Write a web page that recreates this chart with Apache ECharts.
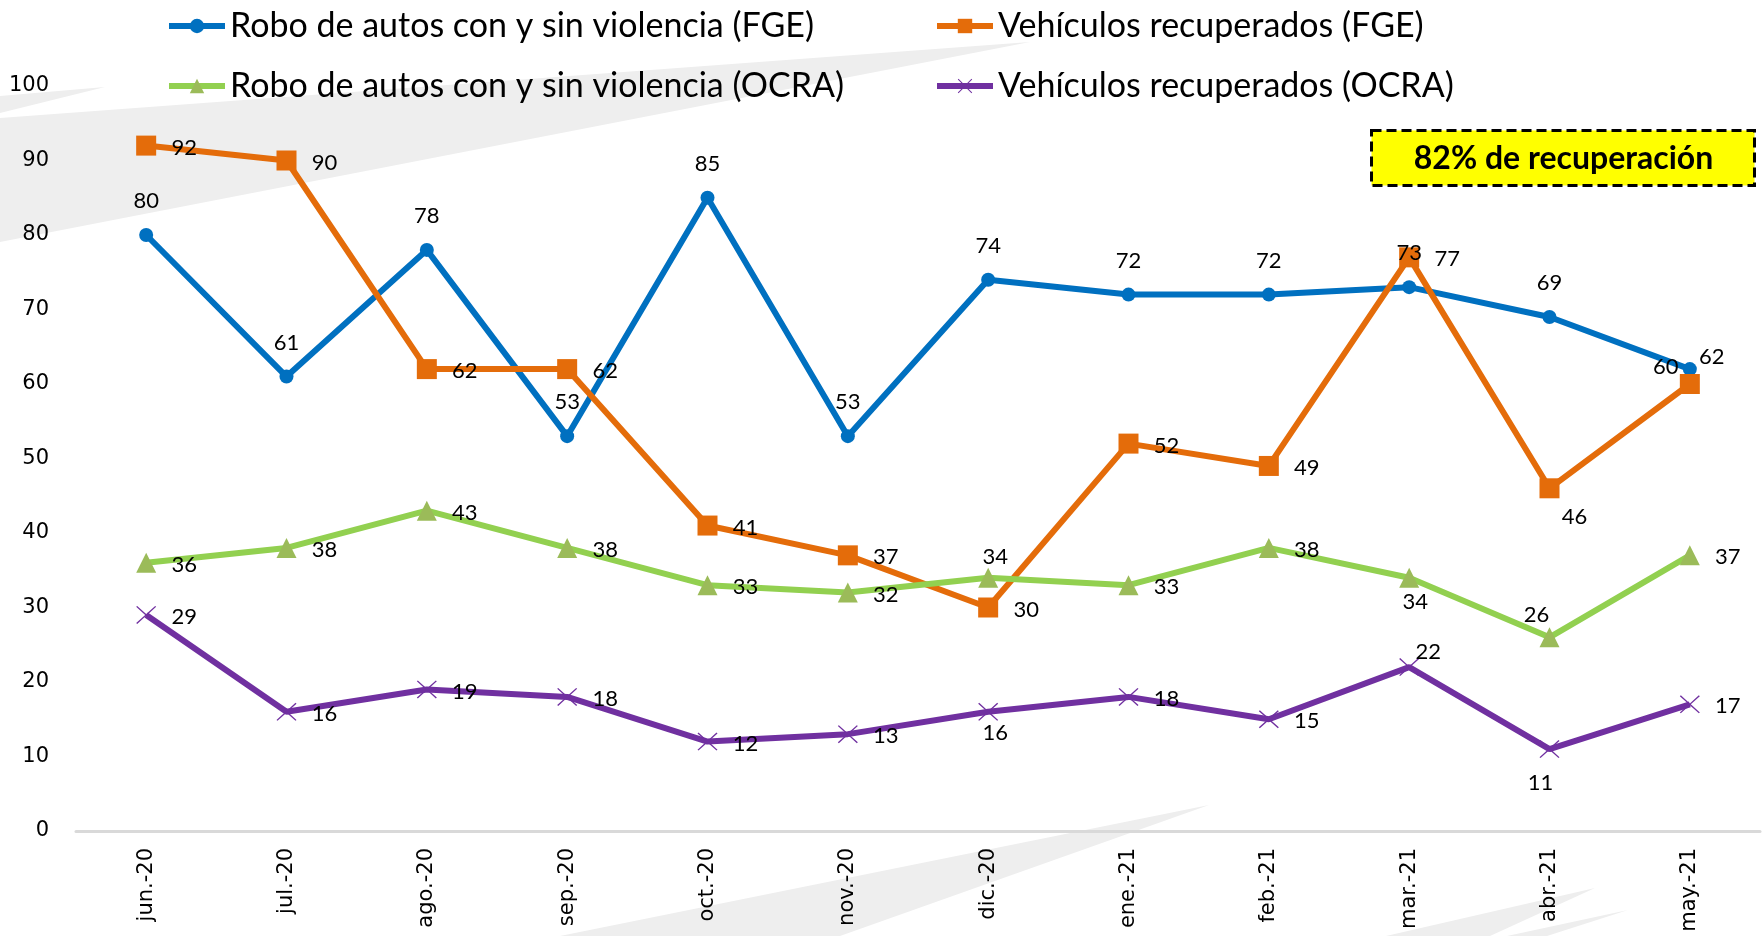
<!DOCTYPE html>
<html>
<head>
<meta charset="utf-8">
<script src="https://cdn.jsdelivr.net/npm/echarts@6/dist/echarts.min.js"></script>
<style>
  html, body { margin: 0; padding: 0; background: #fff; }
  #chart { width: 1763px; height: 936px; }
</style>
</head>
<body>
<div id="chart"></div>
<script>
const months = ['jun.-20', 'jul.-20', 'ago.-20', 'sep.-20', 'oct.-20', 'nov.-20',
  'dic.-20', 'ene.-21', 'feb.-21', 'mar.-21', 'abr.-21', 'may.-21'];

const roboFGE = [80, 61, 78, 53, 85, 53, 74, 72, 72, 73, 69, 62];
const recuperadosFGE = [92, 90, 62, 62, 41, 37, 30, 52, 49, 77, 46, 60];
const roboOCRA = [36, 38, 43, 38, 33, 32, 34, 33, 38, 34, 26, 37];
const recuperadosOCRA = [29, 16, 19, 18, 12, 13, 16, 18, 15, 22, 11, 17];

const seriesNames = [
  'Robo de autos con y sin violencia (FGE)',
  'Vehículos recuperados (FGE)',
  'Robo de autos con y sin violencia (OCRA)',
  'Vehículos recuperados (OCRA)'
];

const yTicks = { min: 0, max: 100, step: 10 };
const recoveryNote = '82% de recuperación';

// Label offsets from the point centre, Excel moves a few of them around
const above = [0, -34];
const rightOf = [38, 2];
const labelMoves = [
  { 11: [22, -12] },
  { 10: [25, 29], 11: [-24, -17] },
  { 6: [7, -21], 9: [6, 24], 10: [-13, -22] },
  { 6: [7, 21], 9: [19, -15], 10: [-9, 34] }
];

const labelFont = 'Lato, "Open Sans", sans-serif';
const axisFont = '"DejaVu Sans", Verdana, sans-serif';

// thin X marker, Excel style
const crossPath = 'path://M0,1 L1,0 L10,9 L19,0 L20,1 L11,10 L20,19 L19,20 L10,11 L1,20 L0,19 L9,10 Z';

const chart = echarts.init(document.getElementById('chart'));

function buildData(values, defaultOffset, moves) {
  return values.map((v, i) => ({
    value: v,
    label: { offset: moves[i] || defaultOffset }
  }));
}

function lineSeries(idx, values, opts) {
  return {
    name: seriesNames[idx],
    type: 'line',
    data: buildData(values, opts.offset, labelMoves[idx]),
    symbol: opts.symbol,
    symbolSize: opts.size,
    showAllSymbol: true,
    lineStyle: { color: opts.line, width: 6 },
    itemStyle: { color: opts.marker },
    label: {
      show: true,
      position: 'inside',
      color: '#000',
      fontFamily: labelFont,
      fontSize: 22
    },
    emphasis: { disabled: true },
    animation: false
  };
}

const swooshes = [
  [[0, 118], [1030, 42], [0, 242]],
  [[0, 96], [105, 87], [0, 113]],
  [[560, 936], [1209, 805], [840, 936]],
  [[1386, 936], [1595, 888], [1490, 936]],
  [[1507, 936], [1628, 910], [1547, 936]]
];

const legendText = {
  fontFamily: labelFont,
  fontSize: 34,
  color: '#000',
  lineHeight: 38
};

const legendBase = {
  orient: 'vertical',
  top: 2,
  itemGap: 22,
  itemWidth: 56,
  itemHeight: 18,
  lineStyle: { width: 6 },
  textStyle: legendText
};

chart.setOption({
  backgroundColor: '#fff',
  animation: false,
  grid: { left: 76, right: 3, top: 86, bottom: 105 },
  legend: [
    Object.assign({}, legendBase, { left: 161, data: [seriesNames[0], seriesNames[2]] }),
    Object.assign({}, legendBase, { left: 929, data: [seriesNames[1], seriesNames[3]] })
  ],
  xAxis: {
    type: 'category',
    data: months,
    boundaryGap: true,
    axisLine: { lineStyle: { color: '#d9d9d9', width: 3 } },
    axisTick: { show: false },
    axisLabel: {
      rotate: 90,
      margin: 17,
      color: '#000',
      fontFamily: axisFont,
      fontSize: 21,
      interval: 0
    }
  },
  yAxis: {
    type: 'value',
    min: yTicks.min,
    max: yTicks.max,
    interval: yTicks.step,
    axisLine: { show: false },
    axisTick: { show: false },
    splitLine: { show: false },
    axisLabel: {
      margin: 27,
      color: '#000',
      fontFamily: axisFont,
      fontSize: 21
    }
  },
  graphic: [
    ...swooshes.map((pts) => ({
      type: 'polygon',
      z: -1,
      silent: true,
      shape: { points: pts },
      style: { fill: '#eeeeee' }
    })),
    {
      type: 'group',
      left: 1370,
      top: 129,
      z: 10,
      children: [
        {
          type: 'rect',
          shape: { x: 0, y: 0, width: 383, height: 55 },
          style: { fill: '#ffff00', stroke: '#000', lineWidth: 3, lineDash: [10, 5] }
        },
        {
          type: 'text',
          x: 192,
          y: 28,
          style: {
            text: recoveryNote,
            fill: '#000',
            font: 'bold 32px Lato, sans-serif',
            align: 'center',
            verticalAlign: 'middle'
          }
        }
      ]
    }
  ],
  series: [
    lineSeries(0, roboFGE, { symbol: 'circle', size: 14, line: '#0070c0', marker: '#0070c0', offset: above }),
    lineSeries(1, recuperadosFGE, { symbol: 'rect', size: 20, line: '#e46c0a', marker: '#e46c0a', offset: rightOf }),
    lineSeries(2, roboOCRA, { symbol: 'triangle', size: 20, line: '#92d050', marker: '#9bbb59', offset: rightOf }),
    lineSeries(3, recuperadosOCRA, { symbol: crossPath, size: [20, 18], line: '#7030a0', marker: '#7030a0', offset: rightOf })
  ]
});
</script>
</body>
</html>
